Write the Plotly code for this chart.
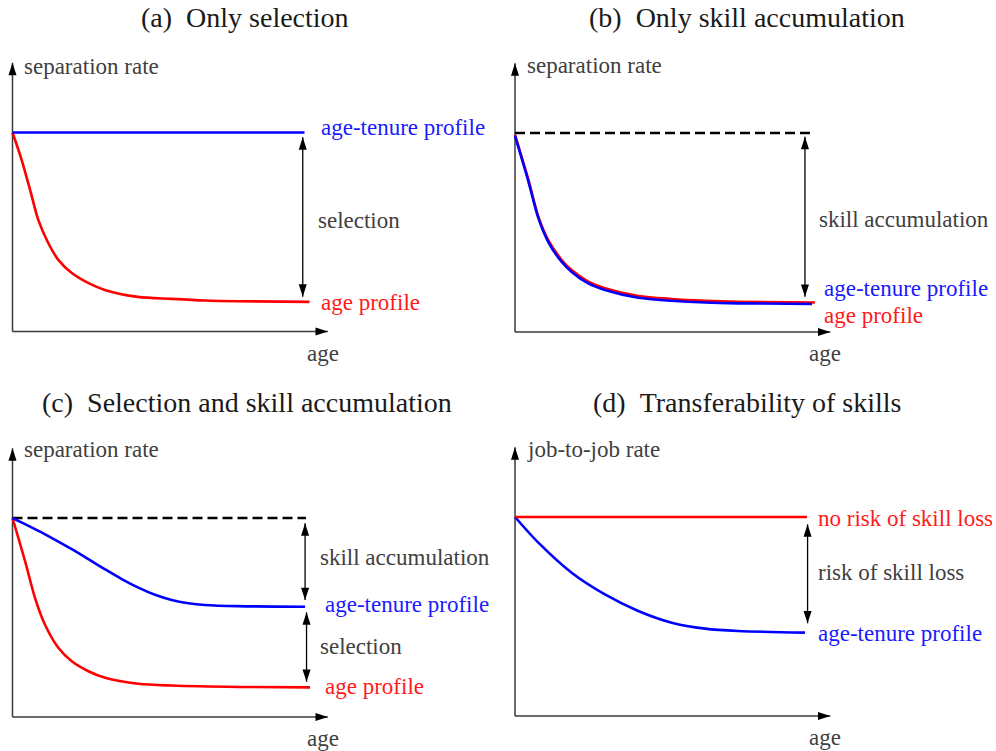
import plotly.graph_objects as go

# ---------------- data (in schematic units) ----------------
# panel (a) Only selection
a_red_x = [0, 0.31, 0.60, 0.88, 1.22, 1.57, 2.02, 2.59, 3.16, 4.29, 5.45, 6.58, 7.71, 10.17]
a_red_y = [10, 8.64, 7.13, 5.62, 4.46, 3.60, 2.95, 2.44, 2.09, 1.74, 1.64, 1.56, 1.52, 1.49]
a_blue_x = [0, 10.0]
a_blue_y = [10, 10]

# panel (b) Only skill accumulation
b_dash_x = [0, 10.1]
b_dash_y = [10, 10]
b_red_x = [0, 0.46, 0.80, 1.14, 1.60, 1.94, 2.51, 3.08, 4.22, 5.36, 6.51, 7.65, 10.27]
b_red_y = [9.9, 7.64, 5.80, 4.62, 3.62, 3.11, 2.53, 2.20, 1.81, 1.66, 1.57, 1.52, 1.48]
b_blue_x = [0, 0.46, 0.80, 1.14, 1.60, 1.94, 2.51, 3.08, 4.22, 5.36, 6.51, 7.65, 10.17]
b_blue_y = [9.85, 7.56, 5.72, 4.52, 3.52, 3.02, 2.44, 2.11, 1.72, 1.57, 1.48, 1.44, 1.41]

# panel (c) Selection and skill accumulation
c_dash_x = [0, 10.05]
c_dash_y = [10, 10]
c_red_x = [0, 0.43, 0.77, 1.11, 1.57, 2.03, 2.60, 3.17, 4.31, 5.45, 7.73, 10.19]
c_red_y = [10, 7.83, 5.99, 4.65, 3.48, 2.80, 2.30, 1.97, 1.67, 1.58, 1.51, 1.49]
c_blue_x = [0, 0.32, 0.89, 1.46, 2.03, 2.60, 3.17, 3.74, 4.31, 4.88, 5.45, 6.02, 6.59, 7.73, 10.02]
c_blue_y = [10, 9.77, 9.35, 8.90, 8.43, 7.93, 7.42, 6.93, 6.50, 6.14, 5.88, 5.72, 5.63, 5.57, 5.54]

# panel (d) Transferability of skills
d_red_x = [0, 10.0]
d_red_y = [10, 10]
d_blue_x = [0, 0.80, 1.94, 3.08, 4.22, 5.37, 6.51, 7.65, 9.93]
d_blue_y = [10, 8.71, 7.20, 6.11, 5.28, 4.69, 4.39, 4.27, 4.19]

# double arrows: (x, top tip, bottom tip)
a_arrows = [(9.94, 9.76, 1.75)]
b_arrows = [(9.93, 9.81, 1.77)]
c_arrows = [(10.02, 9.73, 5.88), (10.07, 5.26, 1.77)]
d_arrows = [(10.02, 9.63, 4.66)]

# axis extents (arrow tips)
axis_x_tip = 10.8
axis_y_tip = 13.5

titles = ["(a)\u2002Only selection", "(b)\u2002Only skill accumulation",
          "(c)\u2002Selection and skill accumulation", "(d)\u2002Transferability of skills"]

# text labels: (text, x, y, color, anchor)
a_labels = [("separation rate", 0.33, 13.34, "lab", "left"),
            ("age-tenure profile", 10.50, 10.23, "blue", "left"),
            ("selection", 10.39, 5.60, "lab", "left"),
            ("age profile", 10.50, 1.48, "red", "left"),
            ("age", 10.63, -1.13, "lab", "center")]
b_labels = [("separation rate", 0.34, 13.37, "lab", "left"),
            ("skill accumulation", 10.34, 5.63, "lab", "left"),
            ("age-tenure profile", 10.51, 2.21, "blue", "left"),
            ("age profile", 10.51, 0.85, "red", "left"),
            ("age", 10.62, -1.10, "lab", "center")]
c_labels = [("separation rate", 0.33, 13.42, "lab", "left"),
            ("skill accumulation", 10.46, 8.04, "lab", "left"),
            ("age-tenure profile", 10.63, 5.63, "blue", "left"),
            ("selection", 10.46, 3.52, "lab", "left"),
            ("age profile", 10.63, 1.51, "red", "left"),
            ("age", 10.63, -1.06, "lab", "center")]
d_labels = [("job-to-job rate", 0.34, 13.37, "lab", "left"),
            ("no risk of skill loss", 10.31, 9.95, "red", "left"),
            ("risk of skill loss", 10.31, 7.19, "lab", "left"),
            ("age-tenure profile", 10.31, 4.17, "blue", "left"),
            ("age", 10.62, -1.10, "lab", "center")]

# ---------------- layout constants ----------------
W, H = 996, 751
SX, SY = 29.2, 19.9            # pixels per schematic unit
ORIGINS = [(12.5, 331.5), (515.0, 332.0), (12.5, 717.0), (515.0, 716.0)]
TITLE_POS = [(245, 18), (747, 18), (247, 402), (747, 402)]
FONT = "Liberation Serif"
LAB_SIZE = 23
TITLE_SIZE = 28
COLORS = {"lab": "#404040", "blue": "#1a1aff", "red": "#ff1a1a"}
BLUE, RED = "#0000ff", "#ff0000"
LW = 2.6
AXC = "#3a3a3a"

fig = go.Figure()

panels = [
    dict(lines=[(a_red_x, a_red_y, RED, None), (a_blue_x, a_blue_y, BLUE, None)],
         arrows=a_arrows, labels=a_labels),
    dict(lines=[(b_dash_x, b_dash_y, "black", "10px,5px"), (b_red_x, b_red_y, RED, None),
                (b_blue_x, b_blue_y, BLUE, None)],
         arrows=b_arrows, labels=b_labels),
    dict(lines=[(c_dash_x, c_dash_y, "black", "10px,5px"), (c_red_x, c_red_y, RED, None),
                (c_blue_x, c_blue_y, BLUE, None)],
         arrows=c_arrows, labels=c_labels),
    dict(lines=[(d_blue_x, d_blue_y, BLUE, None), (d_red_x, d_red_y, RED, None)],
         arrows=d_arrows, labels=d_labels),
]

annotations = []
for i, p in enumerate(panels):
    n = i + 1
    xa = "x" if n == 1 else f"x{n}"
    ya = "y" if n == 1 else f"y{n}"
    ox, oy = ORIGINS[i]

    # axes with arrows
    fig.add_trace(go.Scatter(x=[0, 0, None, 0, axis_x_tip], y=[axis_y_tip, 0, None, 0, 0],
                             mode="lines", line=dict(color=AXC, width=1.5),
                             xaxis=xa, yaxis=ya, hoverinfo="skip"))
    fig.add_trace(go.Scatter(x=[0, axis_x_tip], y=[axis_y_tip, 0], mode="markers",
                             marker=dict(symbol="arrow", size=13, angle=[0, 90], color="black",
                                         line=dict(width=0)),
                             xaxis=xa, yaxis=ya, hoverinfo="skip"))

    # curves
    for (xs, ys, col, dash) in p["lines"]:
        fig.add_trace(go.Scatter(x=xs, y=ys, mode="lines",
                                 line=dict(color=col, width=LW if dash is None else 2.4,
                                           shape="spline" if len(xs) > 2 else "linear",
                                           smoothing=0.8, dash=dash or "solid"),
                                 xaxis=xa, yaxis=ya, hoverinfo="skip"))

    # double arrows
    for (ax_, top, bot) in p["arrows"]:
        fig.add_trace(go.Scatter(x=[ax_, ax_], y=[top, bot], mode="lines",
                                 line=dict(color="black", width=1.3),
                                 xaxis=xa, yaxis=ya, hoverinfo="skip"))
        fig.add_trace(go.Scatter(x=[ax_, ax_], y=[top, bot], mode="markers",
                                 marker=dict(symbol="arrow", size=13, angle=[0, 180], color="black",
                                             line=dict(width=0)),
                                 xaxis=xa, yaxis=ya, hoverinfo="skip"))

    # labels
    for (txt, tx, ty, c, anc) in p["labels"]:
        annotations.append(dict(text=txt, x=tx, y=ty, xref=xa, yref=ya, showarrow=False,
                                xanchor=anc, yanchor="middle",
                                font=dict(family=FONT, size=LAB_SIZE, color=COLORS[c])))

    # title
    tx, ty = TITLE_POS[i]
    annotations.append(dict(text=titles[i], x=tx / W, y=1 - ty / H, xref="paper", yref="paper",
                            showarrow=False, xanchor="center", yanchor="middle",
                            font=dict(family=FONT, size=TITLE_SIZE, color="#1a1a1a")))

    axis_common = dict(visible=False, showgrid=False, zeroline=False, domain=[0, 1], fixedrange=True)
    fig.update_layout(**{
        ("xaxis" if n == 1 else f"xaxis{n}"): dict(axis_common, range=[-ox / SX, (W - ox) / SX],
                                                   anchor=ya),
        ("yaxis" if n == 1 else f"yaxis{n}"): dict(axis_common, range=[(oy - H) / SY, oy / SY],
                                                   anchor=xa),
    })

fig.update_layout(width=W, height=H, margin=dict(l=0, r=0, t=0, b=0),
                  paper_bgcolor="white", plot_bgcolor="rgba(0,0,0,0)",
                  showlegend=False, annotations=annotations)

fig.write_html("out.html", config={"displayModeBar": False},
               post_script="document.body.style.margin='0';document.body.style.overflow='hidden';")
